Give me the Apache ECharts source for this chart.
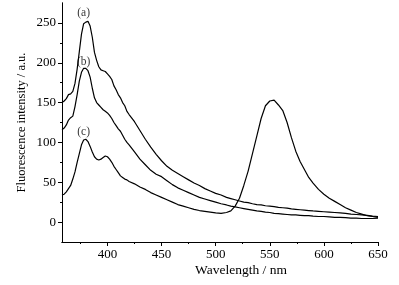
<!DOCTYPE html>
<html>
<head>
<meta charset="utf-8">
<script src="https://cdn.jsdelivr.net/npm/echarts@6/dist/echarts.min.js"></script>
<style>
  html, body {margin: 0; padding: 0; background: #fff;}
  #chart {width: 399px; height: 285px;}
</style>
</head>
<body>
<div id="chart"></div>
<script>
// wavelength (nm), shared by all three spectra
const wavelengths = [
  358, 360, 362, 364, 366, 368, 370, 372, 374, 376, 378, 380, 382, 384, 386, 388,
  390, 392, 394, 396, 398, 400, 402, 404, 406, 408, 410, 412, 414, 416, 418, 420,
  425, 430, 435, 440, 445, 450, 455, 460, 465, 470, 475, 480, 485, 490, 495, 500, 505, 510,
  514, 518, 522, 526, 530, 534, 538, 542, 546, 550, 554, 558, 562, 566, 570, 574, 578, 582, 586, 590,
  595, 600, 605, 610, 615, 620, 625, 630, 635, 640, 645, 650,
];

const curveA = [
  150, 152, 155, 160, 161, 164, 174, 192, 214, 236, 249, 251, 252, 246, 232, 213,
  203, 195, 191, 190, 189, 186, 183, 179, 171, 166, 160, 156, 150, 146, 139, 135,
  126, 115, 104, 94, 85, 77, 70, 65, 61, 57, 53, 49, 46, 42, 39, 36, 34, 31,
  29.5, 28, 26.5, 25, 24.5, 23, 22, 21.5, 20.5, 20, 19.5, 18.5, 18, 17.5, 16.5, 16, 15.5, 15, 14.5, 14,
  13.5, 13, 12.5, 12, 11.5, 11, 10, 9.5, 9, 8.5, 7.5, 7,
];

const curveB = [
  116, 118, 122, 128, 131, 133, 145, 160, 177, 188, 193, 193, 190, 182, 168, 156,
  150, 147, 144, 141, 139, 137, 134, 130, 125, 121, 117, 114, 109, 104, 100, 97,
  88, 79, 72, 65, 60, 57, 52, 47, 43, 40, 37, 34, 31, 29, 27, 25, 23, 21.5,
  20, 19, 18, 17, 16, 15, 14, 13.5, 12.5, 12, 11, 10.5, 10, 9.5, 9, 9, 8.5, 8, 8, 7.5,
  7, 7, 6.5, 6, 6, 5.5, 5, 5, 4.5, 4.5, 4.5, 5,
];

const curveC = [
  34, 35, 38, 42, 46, 54, 63, 75, 86, 97, 103, 104, 101, 95, 88, 82,
  79, 78, 79, 81, 83, 82, 79, 75, 70, 66, 62, 58, 56, 54, 53, 51,
  48, 44, 41, 37, 34, 31, 28, 25, 22, 20, 18, 16, 14.5, 13.5, 12.5, 11.5, 11, 12,
  14, 20, 30, 46, 64, 86, 108, 130, 146, 152, 153, 147, 140, 125, 106, 89, 76, 66, 56, 49,
  41, 35, 30, 26, 22, 18, 15, 12, 10, 8, 7, 6,
];

// curve tags, placed in data coordinates
const tagNames = ["(a)", "(b)", "(c)"];
const tagX = [378, 378, 378];
const tagY = [262, 201, 113];

const xMajorTicks = [400, 450, 500, 550, 600, 650];
const xMinorTicks = [375, 425, 475, 525, 575, 625];
const yMajorTicks = [0, 50, 100, 150, 200, 250];
const yMinorTicks = [25, 75, 125, 175, 225];

const font = "Liberation Serif";
const ink = "#000";

const chart = echarts.init(document.getElementById("chart"), null, {renderer: "canvas"});

const axisBase = {
  type: "value",
  splitLine: {show: false},
  axisLine: {show: true, onZero: false, lineStyle: {color: ink, width: 1}},
};

const lineSeries = (data) => ({
  type: "line",
  data: wavelengths.map((w, i) => [w, data[i]]),
  showSymbol: false,
  symbol: "none",
  lineStyle: {color: ink, width: 1.2},
  animation: false,
});

const option = {
  backgroundColor: "#fff",
  animation: false,
  grid: {left: 62, right: 21, top: 3, bottom: 43},
  xAxis: [
    {
      ...axisBase,
      min: 358,
      max: 650,
      name: "Wavelength / nm",
      nameLocation: "middle",
      nameGap: 21,
      nameMoveOverlap: false,
      nameTextStyle: {fontFamily: font, fontSize: 13.5, color: ink, padding: [0, 0, 0, 42]},
      axisTick: {show: true, length: 4, inside: false, customValues: xMajorTicks, lineStyle: {color: ink}},
      axisLabel: {margin: 6, fontFamily: font, fontSize: 13, color: ink, customValues: xMajorTicks},
    },
    {
      ...axisBase,
      min: 358,
      max: 650,
      position: "bottom",
      axisTick: {show: true, length: 2, customValues: xMinorTicks, lineStyle: {color: ink}},
      axisLabel: {show: false},
    },
  ],
  yAxis: [
    {
      ...axisBase,
      min: -25,
      max: 275,
      name: "Fluorescence intensity / a.u.",
      nameLocation: "middle",
      nameGap: 34,
      nameMoveOverlap: false,
      nameTextStyle: {fontFamily: font, fontSize: 12.5, color: ink},
      axisTick: {show: true, length: 4, customValues: yMajorTicks, lineStyle: {color: ink}},
      axisLabel: {margin: 6, fontFamily: font, fontSize: 13, color: ink, customValues: yMajorTicks},
    },
    {
      ...axisBase,
      min: -25,
      max: 275,
      position: "left",
      axisTick: {show: true, length: 2, customValues: yMinorTicks, lineStyle: {color: ink}},
      axisLabel: {show: false},
    },
  ],
  series: [
    lineSeries(curveA),
    lineSeries(curveB),
    lineSeries(curveC),
    {
      type: "scatter",
      data: tagNames.map((t, i) => [tagX[i], tagY[i], t]),
      symbolSize: 1,
      itemStyle: {color: "rgba(0,0,0,0)"},
      label: {
        show: true,
        position: "inside",
        formatter: (p) => p.data[2],
        fontFamily: font,
        fontSize: 11.5,
        color: ink,
      },
      emphasis: {disabled: true},
      silent: true,
    },
  ],
};

chart.setOption(option);
</script>
</body>
</html>
